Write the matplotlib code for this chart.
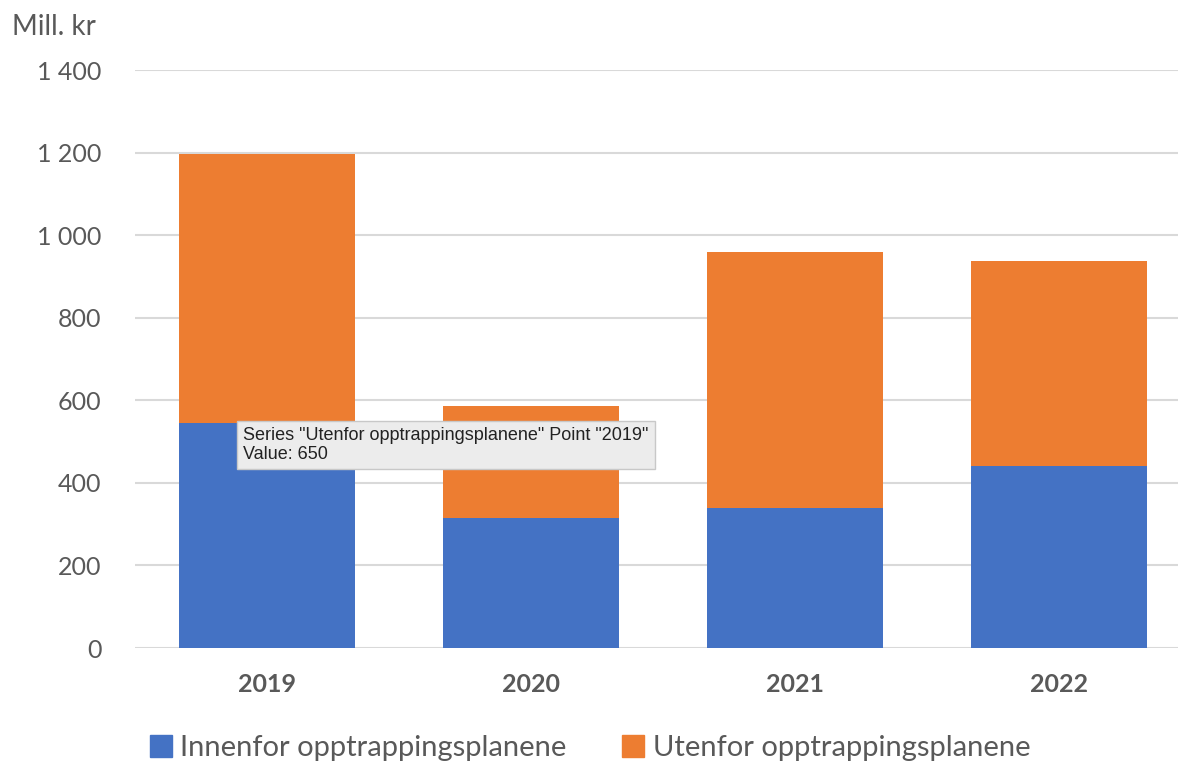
import matplotlib.pyplot as plt
from matplotlib.patches import Patch

years = ["2019", "2020", "2021", "2022"]
innenfor = [546, 315, 339, 441]
utenfor = [650, 271, 620, 496]
y_ticks = [0, 200, 400, 600, 800, 1000, 1200, 1400]

BLUE = "#4472C4"
ORANGE = "#ED7D31"
GREY = "#595959"

plt.rcParams['font.family'] = ['Lato', 'DejaVu Sans']

fig = plt.figure(figsize=(11.78, 7.62), dpi=100)
# plot area runs past the right edge, as in the screenshot
ax = fig.add_axes([135 / 1178, 114 / 762, 1056 / 1178, 578 / 762])

x = range(len(years))
ax.bar(x, innenfor, width=2 / 3, color=BLUE, zorder=2)
ax.bar(x, utenfor, width=2 / 3, bottom=innenfor, color=ORANGE, zorder=2)

ax.set_xlim(-0.5, 3.5)
ax.set_ylim(0, 1400)
ax.set_yticks(y_ticks)
ax.set_yticklabels([f"{v:,}".replace(",", " ") for v in y_ticks], fontsize=18, color=GREY)
ax.set_xticks(list(x))
ax.set_xticklabels(years, fontsize=18, fontweight="bold", color=GREY)
ax.tick_params(axis="both", length=0)
ax.tick_params(axis="y", pad=24)
ax.tick_params(axis="x", pad=18)
ax.grid(axis="y", color="#d9d9d9", linewidth=1.5, zorder=0)
for s in ax.spines.values():
    s.set_visible(False)

fig.text(12 / 1178, 1 - 27 / 762, "Mill. kr", fontsize=20, color=GREY, va="center")

# tooltip from the screenshot
fig.text(243 / 1178, 1 - 445 / 762,
         'Series "Utenfor opptrappingsplanene" Point "2019"\nValue: 650',
         fontsize=13, color="#222222", va="center", ha="left", linespacing=1.15,
         family=['Helvetica', 'Liberation Sans', 'DejaVu Sans'],
         bbox=dict(boxstyle="square,pad=0.35", facecolor="#ececec", edgecolor="#c8c8c8"))

handles = [Patch(color=BLUE, label="Innenfor opptrappingsplanene"),
           Patch(color=ORANGE, label="Utenfor opptrappingsplanene")]
leg = fig.legend(handles=handles, loc="center", bbox_to_anchor=(590 / 1178, 1 - 748 / 762),
                 ncol=2, frameon=False, fontsize=21, handlelength=0.75, handleheight=0.75,
                 handletextpad=0.3, columnspacing=1.9, labelcolor=GREY)

fig.savefig("out.png", dpi=100)
